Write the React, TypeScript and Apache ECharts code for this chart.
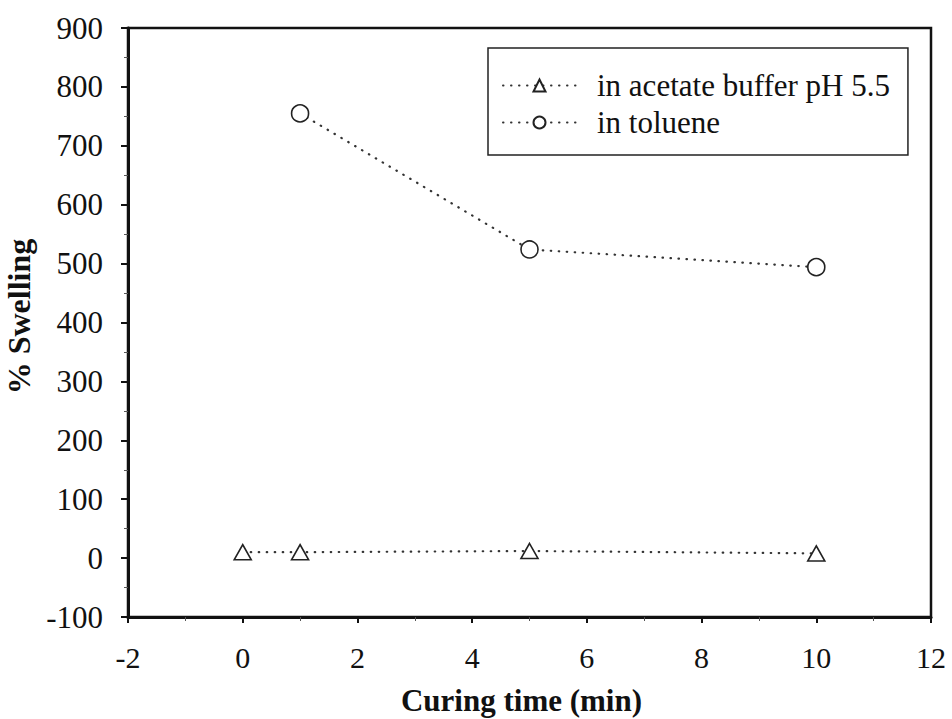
import React, { useEffect, useRef } from "react";
import * as echarts from "echarts";

const bufferTimes = [0, 1, 5, 10];
const bufferValues = [10, 10, 12, 8];
const tolueneTimes = [1, 5, 10];
const tolueneValues = [755, 524, 494];
const seriesNames = ["in acetate buffer pH 5.5", "in toluene"];

const FONT = "Liberation Serif";

export default function App() {
  const ref = useRef<HTMLDivElement>(null);
  useEffect(() => {
    if (!ref.current) return;
    const chart = echarts.init(ref.current, undefined, { renderer: "svg" });
    const lineStyle = { color: "#333", width: 2.2, type: [0.5, 7.5] as any, cap: "round" as any };
    const itemStyle = { color: "#fff", borderColor: "#222", borderWidth: 1.6 };
    chart.setOption({
      animation: false,
      backgroundColor: "#fff",
      textStyle: { fontFamily: FONT },
      grid: {
        left: 128,
        right: 21,
        top: 28,
        bottom: 102,
        show: true,
        borderColor: "#111",
        borderWidth: 2.5,
        containLabel: false,
        outerBoundsMode: "none",
      },
      legend: {
        left: 488,
        top: 48,
        orient: "vertical",
        itemWidth: 73,
        itemHeight: 15,
        itemGap: 6,
        padding: [22, 18, 17, 14],
        borderColor: "#222",
        borderWidth: 1.5,
        borderRadius: 0,
        backgroundColor: "#fff",
        textStyle: { fontFamily: FONT, fontSize: 31, color: "#111", padding: [0, 0, 0, 16] },
        data: seriesNames,
      },
      xAxis: {
        type: "value",
        min: -2,
        max: 12,
        interval: 2,
        name: "Curing time (min)",
        nameLocation: "middle",
        nameGap: 68,
        nameTextStyle: { fontFamily: FONT, fontSize: 31, fontWeight: "bold", color: "#111", padding: [0, 16, 0, 0] },
        axisLine: { show: true, onZero: false, lineStyle: { color: "#111", width: 3 } },
        axisTick: { show: true, inside: false, length: 6, lineStyle: { color: "#111", width: 2 } },
        minorTick: { show: true, splitNumber: 2, length: 4, lineStyle: { color: "#555", width: 1 } },
        axisLabel: { fontFamily: FONT, fontSize: 30, color: "#111", margin: 25 },
        splitLine: { show: false },
      },
      yAxis: {
        type: "value",
        min: -100,
        max: 900,
        interval: 100,
        name: "% Swelling",
        nameLocation: "middle",
        nameGap: 82,
        nameTextStyle: { fontFamily: FONT, fontSize: 32, fontWeight: "bold", color: "#111", padding: [0, 0, 0, 12] },
        axisLine: { show: true, onZero: false, lineStyle: { color: "#111", width: 3 } },
        axisTick: { show: true, inside: false, length: 7, lineStyle: { color: "#111", width: 2 } },
        minorTick: { show: true, splitNumber: 2, length: 4, lineStyle: { color: "#555", width: 1 } },
        axisLabel: { fontFamily: FONT, fontSize: 31, color: "#111", margin: 25 },
        splitLine: { show: false },
      },
      series: [
        {
          name: seriesNames[0],
          type: "line",
          data: bufferTimes.map((t, i) => [t, bufferValues[i]]),
          symbol: "triangle",
          symbolSize: [17, 15],
          lineStyle,
          itemStyle,
        },
        {
          name: seriesNames[1],
          type: "line",
          data: tolueneTimes.map((t, i) => [t, tolueneValues[i]]),
          symbol: "circle",
          symbolSize: 17,
          lineStyle,
          itemStyle,
        },
      ],
    });
    return () => chart.dispose();
  }, []);
  return <div ref={ref} style={{ width: 952, height: 719, position: "absolute", left: 0, top: 0 }} />;
}
